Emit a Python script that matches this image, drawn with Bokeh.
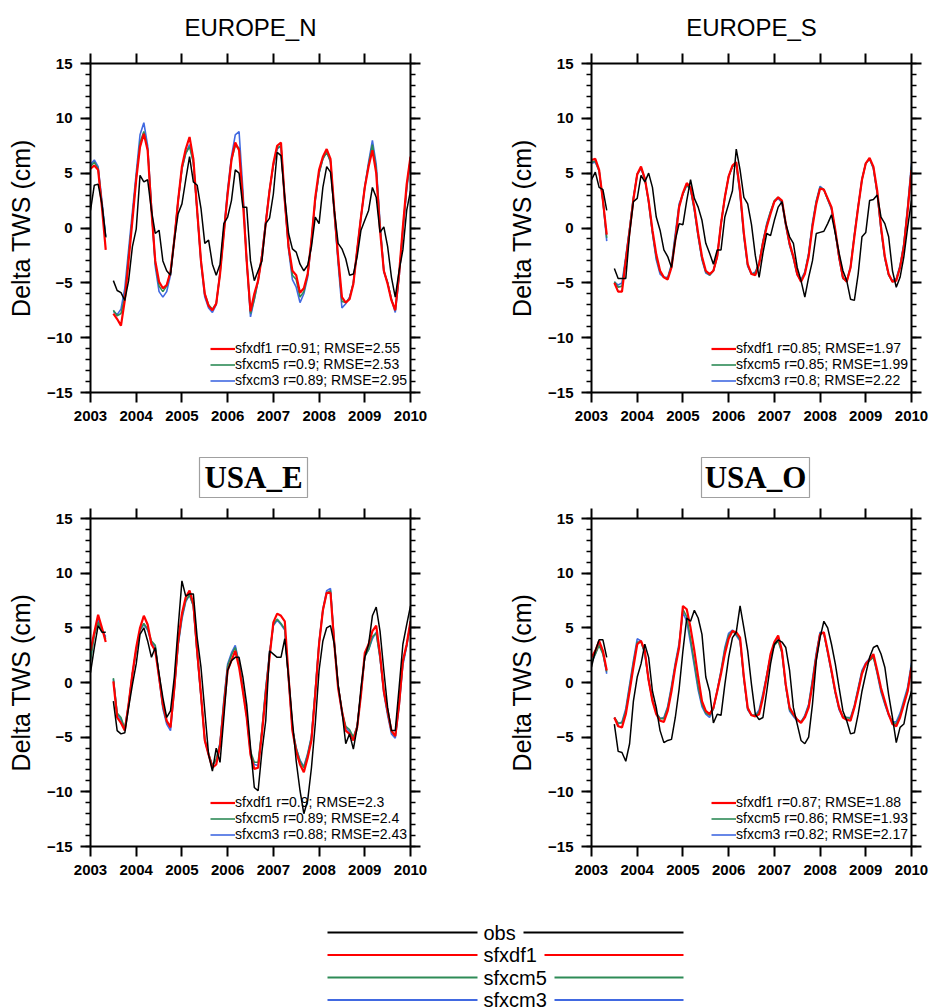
import math
from bokeh.plotting import figure
from bokeh.models import Range1d, LinearAxis, FixedTicker, Legend, LegendItem, ColumnDataSource
from bokeh.layouts import row, column
from bokeh.embed import file_html
from bokeh.resources import INLINE
from bokeh.core.properties import value

nan = float("nan")

# monthly time axis: Jan 2003 .. Jan 2010 (June 2003 missing)
months = [2003 + i / 12.0 for i in range(85)]
year_ticks = [2003, 2004, 2005, 2006, 2007, 2008, 2009, 2010]
y_ticks = [-15, -10, -5, 0, 5, 10, 15]
y_minor = list(range(-15, 16))
series_names = ["obs", "sfxdf1", "sfxcm5", "sfxcm3"]
panel_titles = ["EUROPE_N", "EUROPE_S", "USA_E", "USA_O"]

# ---------------- EUROPE_N ----------------
en_obs = [1.6, 3.9, 4.0, 2.2, -0.8, nan, -4.8, -5.7, -5.9, -6.6, -4.8, -1.7,
          -0.1, 4.8, 4.2, 4.4, 1.6, -0.5, -0.2, -3.0, -3.9, -4.3, -1.1, 1.3,
          2.2, 4.4, 6.5, 4.2, 3.9, 1.8, -1.4, -1.1, -3.3, -4.3, -3.3, 0.4,
          1.0, 2.5, 5.3, 5.0, 1.9, 1.9, -3.0, -4.8, -3.9, -3.0, 0.4, 0.9,
          3.1, 6.9, 6.6, 2.8, -0.5, -1.9, -2.2, -3.3, -3.9, -3.4, -1.7, 1.0,
          0.4, 3.7, 5.6, 5.1, 1.6, -1.4, -1.9, -2.8, -4.3, -4.2, -2.6, -0.2,
          0.7, 1.6, 3.7, 2.8, -0.4, 0.1, -1.7, -4.5, -6.3, -3.9, -2.0, 1.6,
          3.4]
en_df1 = [5.4, 5.7, 5.3, 1.9, -2.0, nan, -7.8, -8.3, -8.9, -6.6, -3.0, 0.7,
          4.4, 7.4, 8.6, 7.1, 1.6, -3.0, -4.9, -5.5, -5.2, -4.0, -1.1, 2.5,
          5.6, 7.2, 8.3, 6.3, 1.6, -3.0, -6.0, -7.1, -7.5, -6.9, -4.2, -0.5,
          3.1, 6.2, 7.8, 7.1, 2.5, -3.0, -7.6, -6.0, -4.8, -2.6, 0.4, 3.4,
          5.9, 7.5, 7.8, 2.5, -1.7, -3.9, -4.3, -5.9, -5.5, -4.2, -1.1, 2.8,
          5.3, 6.5, 7.2, 6.3, 1.6, -2.6, -6.3, -6.8, -6.5, -5.1, -2.0, 1.0,
          3.7, 5.6, 7.1, 5.0, -0.2, -3.9, -5.1, -6.6, -7.5, -4.2, 0.1, 4.0,
          6.5]
en_cm5 = [5.6, 6.0, 5.4, 2.2, -0.9, nan, -7.5, -8.0, -7.8, -6.3, -2.5, 1.0,
          4.6, 7.8, 8.8, 7.2, 1.8, -3.2, -5.3, -5.8, -5.3, -4.0, -1.0, 2.5,
          5.4, 6.8, 7.4, 6.0, 1.5, -3.0, -6.0, -7.0, -7.4, -6.9, -4.2, -0.5,
          3.2, 6.2, 7.5, 7.3, 2.8, -3.0, -7.8, -6.5, -4.8, -2.5, 0.5, 3.4,
          5.8, 7.3, 7.5, 2.5, -1.8, -4.3, -4.7, -6.3, -5.8, -4.3, -1.1, 2.6,
          5.0, 6.3, 6.9, 6.1, 1.5, -2.9, -6.7, -6.8, -6.4, -5.0, -2.0, 1.0,
          3.7, 5.8, 7.6, 5.4, 0.2, -3.9, -5.0, -6.5, -7.5, -4.3, -0.1, 3.7,
          6.4]
en_cm3 = [5.8, 6.2, 5.6, 2.5, -0.8, nan, -7.6, -7.9, -7.4, -5.5, -2.0, 1.5,
          5.0, 8.5, 9.6, 7.5, 2.0, -3.5, -5.8, -6.3, -5.8, -4.3, -1.0, 2.5,
          5.4, 6.8, 7.6, 6.0, 1.5, -3.2, -6.3, -7.3, -7.7, -7.0, -4.0, -0.2,
          3.5, 6.5, 8.5, 8.8, 3.5, -3.0, -8.1, -6.5, -4.8, -2.4, 0.6, 3.5,
          5.7, 7.2, 7.5, 2.4, -2.0, -4.7, -5.4, -6.8, -6.0, -4.5, -1.2, 2.5,
          5.0, 6.3, 7.0, 6.0, 1.3, -3.2, -7.3, -6.9, -6.3, -5.0, -2.0, 1.0,
          3.8, 6.0, 8.0, 5.8, 0.5, -4.0, -5.0, -6.5, -7.7, -4.5, -0.3, 3.5,
          6.4]
en_labels = ["sfxdf1 r=0.91; RMSE=2.55", "sfxcm5 r=0.9; RMSE=2.53", "sfxcm3 r=0.89; RMSE=2.95"]

# ---------------- EUROPE_S ----------------
es_obs = [4.4, 5.1, 3.7, 3.5, 1.6, nan, -3.7, -4.6, -4.6, -4.6, -0.5, 2.4,
          2.7, 4.8, 4.2, 5.0, 3.7, 1.0, -0.2, -2.0, -2.6, -3.6, -1.1, 0.4,
          0.3, 2.5, 4.4, 2.7, 1.9, 0.7, -1.4, -2.3, -3.3, -2.0, -2.0, 1.0,
          2.2, 3.4, 7.2, 5.3, 2.8, 2.2, 0.3, -2.5, -4.5, -2.3, -0.5, -0.7,
          0.7, 1.9, 2.4, 0.4, -0.8, -1.4, -3.6, -4.8, -6.3, -4.5, -3.0, -0.5,
          -0.4, -0.3, 0.4, 1.2, -0.5, -2.3, -3.9, -4.8, -6.5, -6.6, -4.2, -0.8,
          -0.4, 2.5, 2.6, 3.0, 1.0, 0.4, -0.8, -3.9, -5.4, -4.5, -2.6, 0.1,
          2.5]
es_df1 = [6.2, 6.3, 5.3, 2.5, -0.6, nan, -5.0, -5.8, -5.8, -3.0, -0.3, 2.6,
          4.9, 5.6, 4.5, 2.5, -0.2, -2.4, -3.9, -4.5, -4.7, -3.6, -1.1, 1.9,
          3.2, 4.1, 3.7, 1.9, -0.5, -2.6, -3.9, -4.2, -3.9, -2.6, 0.4, 2.8,
          4.7, 5.7, 6.0, 3.4, -0.5, -3.3, -4.2, -4.3, -3.3, -1.4, 0.1, 1.3,
          2.4, 2.8, 2.5, 0.4, -1.4, -2.6, -4.2, -4.9, -4.2, -2.6, 0.1, 2.2,
          3.6, 3.5, 2.7, 1.9, -0.2, -2.6, -4.5, -4.9, -3.6, -0.8, 1.9, 4.4,
          5.9, 6.4, 5.6, 3.4, 0.1, -2.6, -4.2, -4.9, -4.8, -3.6, -1.7, 1.6,
          5.3]
es_cm5 = [6.0, 6.1, 5.2, 2.5, -0.9, nan, -4.9, -5.4, -5.3, -2.8, -0.1, 2.7,
          4.9, 5.5, 4.5, 2.4, -0.4, -2.7, -4.0, -4.5, -4.6, -3.4, -0.8, 2.0,
          3.1, 3.9, 3.6, 1.7, -0.7, -2.8, -4.0, -4.3, -3.9, -2.6, 0.4, 2.8,
          4.7, 5.6, 5.9, 3.2, -0.6, -3.4, -4.2, -4.1, -3.2, -1.3, 0.3, 1.5,
          2.5, 2.8, 2.4, 0.3, -1.5, -2.7, -4.2, -4.8, -4.1, -2.4, 0.3, 2.4,
          3.7, 3.5, 2.6, 1.8, -0.3, -2.7, -4.6, -4.9, -3.6, -0.7, 1.9, 4.4,
          5.9, 6.3, 5.5, 3.2, -0.1, -2.7, -4.3, -4.9, -4.7, -3.5, -1.5, 1.8,
          5.6]
es_cm3 = [5.9, 6.0, 5.2, 2.5, -1.2, nan, -4.9, -5.2, -5.0, -2.6, 0.0, 2.8,
          4.9, 5.4, 4.5, 2.3, -0.5, -2.9, -4.2, -4.5, -4.5, -3.3, -0.5, 2.2,
          3.1, 3.9, 3.5, 1.6, -0.8, -2.9, -4.1, -4.3, -3.9, -2.6, 0.4, 2.8,
          4.7, 5.6, 5.8, 3.0, -0.8, -3.5, -4.2, -4.0, -3.2, -1.2, 0.4, 1.5,
          2.4, 2.7, 2.3, 0.2, -1.6, -2.8, -4.3, -4.7, -4.0, -2.3, 0.5, 2.5,
          3.8, 3.5, 2.6, 1.7, -0.4, -2.8, -4.6, -4.8, -3.5, -0.6, 2.0, 4.5,
          5.9, 6.3, 5.4, 3.1, -0.2, -2.8, -4.3, -4.8, -4.6, -3.4, -1.4, 2.0,
          5.9]
es_labels = ["sfxdf1 r=0.85; RMSE=1.97", "sfxcm5 r=0.85; RMSE=1.99", "sfxcm3 r=0.8; RMSE=2.22"]

# ---------------- USA_E ----------------
ue_obs = [0.9, 3.2, 5.2, 4.6, 4.6, nan, -1.7, -4.4, -4.7, -4.6, -2.3, -0.2,
          1.7, 4.4, 5.0, 3.8, 2.3, 3.2, 0.8, -1.4, -3.2, -2.6, 0.5, 5.0,
          9.3, 7.9, 8.1, 8.1, 4.1, 1.4, -2.6, -6.6, -8.1, -6.0, -7.3, -3.2,
          1.1, 2.0, 2.3, 2.3, 0.5, -2.0, -5.9, -9.6, -9.9, -6.3, -3.5, 2.9,
          2.6, 2.3, 2.3, 4.0, 0.5, -3.5, -7.2, -9.9, -12.0, -10.8, -7.8, -3.8,
          1.1, 3.8, 5.0, 5.2, 3.5, -0.2, -2.6, -5.6, -4.7, -6.1, -4.1, -0.5,
          2.3, 3.5, 6.1, 6.9, 4.7, 1.1, -2.3, -4.4, -4.4, -0.5, 3.5, 5.3,
          7.0]
ue_df1 = [2.9, 4.6, 6.2, 5.0, 3.7, nan, 0.1, -3.2, -3.7, -4.4, -2.0, 0.8,
          3.2, 5.0, 6.1, 5.3, 3.5, 2.9, 0.5, -2.0, -3.5, -4.1, -0.5, 3.8,
          6.3, 7.8, 8.4, 7.2, 2.9, -1.1, -5.3, -6.6, -7.8, -7.5, -5.8, -2.3,
          1.1, 2.0, 2.9, 1.4, -0.8, -3.2, -6.6, -7.9, -7.8, -4.7, -1.1, 2.3,
          5.5, 6.3, 6.1, 5.6, 0.5, -4.4, -6.3, -7.5, -8.2, -6.9, -5.3, -1.1,
          3.5, 6.6, 8.2, 8.2, 3.5, -0.5, -2.6, -4.4, -4.7, -5.3, -4.1, -1.1,
          2.7, 3.5, 4.7, 5.2, 2.6, -0.8, -2.6, -4.4, -4.9, -2.0, 2.0, 3.5,
          5.6]
ue_cm5 = [2.0, 4.3, 5.5, 4.8, 4.0, nan, 0.4, -2.8, -3.2, -4.2, -2.0, 0.8,
          3.0, 4.8, 5.4, 4.9, 3.8, 3.4, 0.6, -2.2, -3.6, -4.0, -0.5, 3.5,
          6.0, 7.5, 8.0, 7.0, 2.7, -1.2, -5.2, -6.5, -7.6, -7.0, -5.6, -1.8,
          1.5, 2.5, 3.2, 1.7, -0.6, -3.0, -6.3, -7.3, -7.3, -4.3, -0.6, 2.6,
          5.3, 5.8, 5.4, 4.9, 0.3, -4.2, -6.0, -7.2, -7.8, -6.6, -5.0, -0.8,
          3.6, 6.6, 8.2, 8.4, 3.6, -0.3, -2.6, -4.0, -4.3, -5.0, -4.0, -1.0,
          2.4, 3.0, 4.2, 4.5, 2.3, -0.8, -2.8, -4.5, -4.9, -2.0, 1.8, 3.4,
          5.5]
ue_cm3 = [2.2, 4.5, 5.7, 4.8, 4.2, nan, 0.3, -2.9, -3.4, -4.3, -2.0, 0.8,
          3.0, 4.8, 5.3, 4.8, 3.6, 3.3, 0.4, -2.4, -3.8, -4.4, -0.7, 3.4,
          5.8, 7.4, 8.0, 7.0, 2.6, -1.3, -5.3, -6.6, -7.6, -7.1, -5.5, -1.6,
          1.7, 2.7, 3.4, 1.8, -0.6, -3.1, -6.5, -7.5, -7.6, -4.4, -0.5, 2.7,
          5.2, 5.7, 5.3, 4.8, 0.2, -4.2, -6.0, -7.1, -7.7, -6.5, -4.9, -0.7,
          3.7, 6.7, 8.4, 8.6, 3.7, -0.3, -2.8, -4.1, -4.5, -5.1, -4.0, -1.0,
          2.4, 3.0, 4.0, 4.6, 2.2, -1.0, -3.0, -4.7, -5.1, -2.2, 1.6, 3.3,
          5.5]
ue_labels = ["sfxdf1 r=0.9; RMSE=2.3", "sfxcm5 r=0.89; RMSE=2.4", "sfxcm3 r=0.88; RMSE=2.43"]

# ---------------- USA_O ----------------
uo_obs = [1.4, 2.9, 3.9, 3.9, 2.3, nan, -3.8, -6.3, -6.4, -7.2, -5.6, -1.7,
          0.5, 1.7, 3.5, 2.3, -0.8, -2.3, -4.4, -5.5, -5.3, -5.2, -3.2, -0.6,
          2.9, 5.9, 5.6, 6.6, 5.9, 4.4, 0.5, -0.8, -3.7, -2.9, -3.0, -0.2,
          2.3, 4.1, 4.6, 7.0, 5.0, 2.9, -0.2, -2.9, -3.4, -3.2, -0.8, 1.7,
          3.5, 3.9, 3.7, 3.2, 1.1, -2.3, -3.8, -5.3, -5.6, -5.0, -2.0, 2.0,
          4.1, 5.6, 5.0, 3.5, 1.7, -0.5, -2.6, -3.5, -4.7, -4.6, -2.9, -0.8,
          0.8, 2.3, 3.2, 3.4, 2.6, 1.4, -1.1, -3.2, -5.5, -4.1, -3.8, -2.0,
          -0.8]
uo_df1 = [2.3, 2.9, 3.8, 2.9, 1.1, nan, -3.2, -4.0, -4.1, -2.9, -0.8, 1.4,
          3.5, 3.8, 2.9, 0.2, -1.7, -2.9, -3.5, -3.6, -2.6, -0.8, 1.4, 3.2,
          7.0, 6.7, 5.0, 2.9, 0.5, -1.7, -2.6, -2.9, -2.3, -0.8, 0.8, 2.6,
          4.0, 4.7, 4.6, 4.1, 0.5, -2.3, -3.0, -3.1, -2.9, -1.4, 0.5, 2.6,
          3.7, 4.3, 2.9, -0.2, -2.3, -2.9, -3.4, -3.7, -3.2, -2.3, -0.2, 2.3,
          4.4, 4.6, 2.9, 1.1, -0.8, -2.3, -3.2, -3.4, -3.5, -2.3, -0.8, 0.8,
          1.7, 2.1, 2.6, 1.1, -0.5, -1.7, -2.9, -3.8, -4.0, -3.2, -2.0, -0.8,
          1.4]
uo_cm5 = [1.9, 2.6, 3.4, 2.6, 1.0, nan, -3.2, -3.7, -3.7, -2.6, -0.4, 1.8,
          3.7, 3.7, 2.7, 0.2, -1.6, -2.8, -3.3, -3.3, -2.3, -0.5, 1.6, 3.4,
          6.7, 6.0, 4.0, 1.8, -0.4, -2.0, -2.8, -3.0, -2.4, -0.8, 1.0, 3.0,
          4.3, 4.7, 4.4, 3.9, 0.4, -2.4, -3.0, -3.0, -2.7, -1.2, 0.6, 2.5,
          3.4, 3.8, 2.7, -0.3, -2.5, -3.0, -3.4, -3.6, -3.1, -2.1, 0.1, 2.5,
          4.5, 4.5, 2.8, 1.0, -0.9, -2.4, -3.1, -3.2, -3.3, -2.2, -0.6, 1.0,
          1.6, 2.0, 2.3, 0.9, -0.7, -1.9, -2.9, -3.6, -3.8, -3.0, -1.8, -0.6,
          1.6]
uo_cm3 = [1.8, 2.6, 3.6, 2.7, 0.8, nan, -3.2, -3.8, -3.6, -2.4, -0.2, 2.0,
          4.0, 3.8, 2.6, 0.2, -1.6, -2.8, -3.3, -3.2, -2.2, -0.3, 1.8, 3.6,
          6.4, 5.6, 3.6, 1.5, -0.7, -2.2, -2.9, -3.2, -2.4, -0.7, 1.1, 3.2,
          4.5, 4.8, 4.3, 3.8, 0.3, -2.5, -3.0, -3.0, -2.5, -1.0, 0.7, 2.4,
          3.4, 3.9, 2.8, -0.4, -2.6, -3.1, -3.5, -3.6, -3.0, -2.0, 0.3, 2.7,
          4.6, 4.5, 2.7, 0.9, -1.0, -2.5, -3.2, -3.2, -3.2, -2.1, -0.5, 1.1,
          1.8, 2.2, 2.4, 0.8, -0.9, -2.0, -3.0, -3.6, -3.6, -2.8, -1.6, -0.4,
          1.8]
uo_labels = ["sfxdf1 r=0.87; RMSE=1.88", "sfxcm5 r=0.86; RMSE=1.93", "sfxcm3 r=0.82; RMSE=2.17"]

COLORS = {"obs": "#000000", "sfxdf1": "#ff0000", "sfxcm5": "#2e8b57", "sfxcm3": "#4169e1"}
WIDTHS = {"obs": 1.5, "sfxdf1": 2.2, "sfxcm5": 1.6, "sfxcm3": 1.6}
SANS = "Liberation Sans"
SERIF = "Liberation Serif"


def style_axis(ax, labels=True):
    ax.axis_line_width = 2
    ax.axis_line_color = "black"
    ax.major_tick_line_width = 2
    ax.major_tick_out = 10
    ax.major_tick_in = 0
    ax.minor_tick_line_width = 1.5
    ax.minor_tick_out = 5
    ax.minor_tick_in = 0
    if labels:
        ax.major_label_text_font = SANS
        ax.major_label_text_font_size = "15px"
        ax.major_label_text_font_style = "bold"
        ax.major_label_text_color = "black"
        ax.major_label_standoff = 8
    else:
        ax.major_label_text_font_size = "0px"
        ax.major_label_text_color = None
        ax.major_label_standoff = 0


def panel(obs, df1, cm5, cm3, labels, left_b, right_b, height, frame_h):
    top_b = 12
    p = figure(width=465, height=height, x_range=Range1d(2003, 2010), y_range=Range1d(-15, 15),
               x_axis_type=None, y_axis_type=None, output_backend="svg", toolbar_location=None,
               min_border_left=left_b, min_border_right=right_b, min_border_top=top_b,
               min_border_bottom=height - top_b - frame_h, outline_line_color=None,
               background_fill_color="white", border_fill_color="white")
    xt = FixedTicker(ticks=year_ticks, minor_ticks=[])
    yt = FixedTicker(ticks=y_ticks, minor_ticks=y_minor)
    bx = LinearAxis(ticker=xt); style_axis(bx, True)
    tx = LinearAxis(ticker=xt); style_axis(tx, False)
    ly = LinearAxis(ticker=yt); style_axis(ly, True)
    ry = LinearAxis(ticker=yt); style_axis(ry, False)
    ly.axis_label = "Delta TWS (cm)"
    ly.axis_label_text_font = SANS
    ly.axis_label_text_font_size = "25px"
    ly.axis_label_text_font_style = "normal"
    ly.axis_label_text_color = "black"
    ly.axis_label_standoff = 9
    p.add_layout(bx, "below")
    p.add_layout(tx, "above")
    p.add_layout(ly, "left")
    p.add_layout(ry, "right")

    data = {"obs": obs, "sfxdf1": df1, "sfxcm5": cm5, "sfxcm3": cm3}
    rends = {}
    for name in ["sfxcm3", "sfxcm5", "sfxdf1", "obs"]:
        src = ColumnDataSource(dict(x=months, y=data[name]))
        rends[name] = p.line("x", "y", source=src, line_color=COLORS[name], line_width=WIDTHS[name])

    items = [LegendItem(label=labels[0], renderers=[rends["sfxdf1"]]),
             LegendItem(label=labels[1], renderers=[rends["sfxcm5"]]),
             LegendItem(label=labels[2], renderers=[rends["sfxcm3"]])]
    leg = Legend(items=items, location=(120, 4), glyph_width=25, glyph_height=15,
                 label_height=15, label_standoff=0, spacing=0, padding=0, margin=0,
                 label_text_font=SANS, label_text_font_size="14px", label_text_color="black",
                 border_line_color=None, background_fill_alpha=0)
    p.add_layout(leg)
    return p


def title_strip(height, names, xs, boxed):
    s = figure(width=930, height=height, x_range=Range1d(0, 930), y_range=Range1d(height, 0),
               x_axis_type=None, y_axis_type=None, output_backend="svg", toolbar_location=None,
               min_border=0, outline_line_color=None)
    ys = [27] * len(names)
    src = ColumnDataSource(dict(x=xs, y=ys, t=names))
    if boxed:
        s.rect(x="x", y="y", width=108, height=40, source=src, fill_color="white",
               line_color="#a0a0a0", line_width=1.2)
        s.text(x="x", y="y", text="t", source=src, text_font=value(SERIF),
               text_font_size=value("31px"), text_font_style="bold",
               text_align="center", text_baseline="middle", text_color="black")
    else:
        s.text(x="x", y="y", text="t", source=src, text_font=value(SANS),
               text_font_size=value("24px"), text_align="center", text_baseline="middle",
               text_color="black")
    return s


strip1 = title_strip(51, panel_titles[:2], [250, 751], False)
strip2 = title_strip(56, panel_titles[2:], [253, 755], True)

p1 = panel(en_obs, en_df1, en_cm5, en_cm3, en_labels, 90, 55, 399, 329)
p2 = panel(es_obs, es_df1, es_cm5, es_cm3, es_labels, 126, 19, 399, 329)
p3 = panel(ue_obs, ue_df1, ue_cm5, ue_cm3, ue_labels, 90, 55, 384, 328)
p4 = panel(uo_obs, uo_df1, uo_cm5, uo_cm3, uo_labels, 126, 19, 384, 328)

# bottom shared legend
leg_rows = [42, 64.5, 87, 109.5]
leg_text_x = 483
leg_left = (327, 477)
leg_right_start = [523, 544, 554, 554]
leg_right_end = 683
pl = figure(width=930, height=117, x_range=Range1d(0, 930), y_range=Range1d(117, 0),
            x_axis_type=None, y_axis_type=None, output_backend="svg", toolbar_location=None,
            min_border=0, outline_line_color=None)
lsrc = ColumnDataSource(dict(
    y=leg_rows, name=series_names, color=[COLORS[n] for n in series_names],
    x0=[leg_left[0]] * 4, x1=[leg_left[1]] * 4,
    x2=leg_right_start, x3=[leg_right_end] * 4, tx=[leg_text_x] * 4))
pl.segment(x0="x0", y0="y", x1="x1", y1="y", color="color", line_width=2, source=lsrc)
pl.segment(x0="x2", y0="y", x1="x3", y1="y", color="color", line_width=2, source=lsrc)
pl.text(x="tx", y="y", text="name", source=lsrc, text_font=value(SANS),
        text_font_size=value("20px"), text_baseline="middle", text_align="left", text_color="black")

layout = column(strip1, row(p1, p2), strip2, row(p3, p4), pl)
open("out.html", "w").write(file_html(layout, INLINE))
